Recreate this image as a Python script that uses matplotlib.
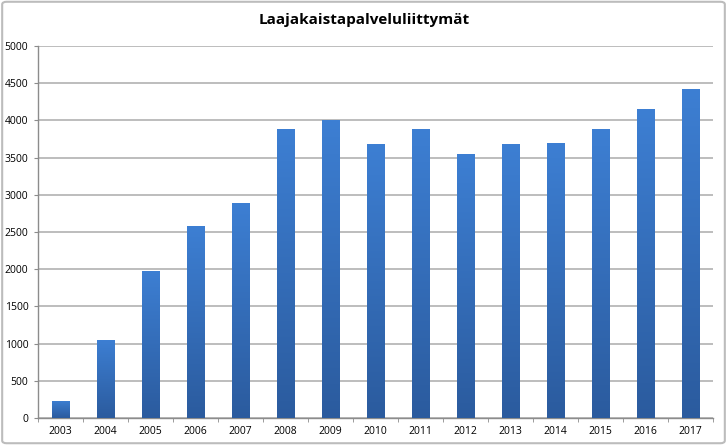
import numpy as np
import matplotlib.pyplot as plt
from matplotlib.colors import LinearSegmentedColormap
from matplotlib.patches import FancyBboxPatch

years = ["2003", "2004", "2005", "2006", "2007", "2008", "2009", "2010",
         "2011", "2012", "2013", "2014", "2015", "2016", "2017"]
values = [230, 1050, 1980, 2580, 2890, 3890, 4000, 3680,
          3880, 3550, 3680, 3700, 3880, 4150, 4420]
title = "Laajakaistapalveluliittymät"

plt.rcParams['font.family'] = ['Open Sans', 'DejaVu Sans']

fig = plt.figure(figsize=(7.27, 4.45), dpi=100)
ax = fig.add_axes([38/727, 1 - 418/445, (713-38)/727, (418-46)/445])

# outer border of the chart
fig.patches.append(FancyBboxPatch((0.003, 0.004), 0.994, 0.992, boxstyle="round,pad=0,rounding_size=0.006",
                                  transform=fig.transFigure, fill=False, edgecolor="#bcbcbc", linewidth=1.5))

x = np.arange(len(years))
bars = ax.bar(x, values, width=0.4, color="#3a78c6", zorder=3)

# vertical gradient inside each bar: lighter top, darker bottom
cmap = LinearSegmentedColormap.from_list("g", ["#2b5b9e", "#3d7fd3"])
grad = np.linspace(0, 1, 256).reshape(-1, 1)
for b in bars:
    x0, y0 = b.get_x(), b.get_y()
    im = ax.imshow(grad, cmap=cmap, origin="lower", aspect="auto",
                   extent=[x0, x0 + b.get_width(), y0, y0 + b.get_height()], zorder=3)
    im.set_clip_path(b)
    b.set_facecolor("none")
    b.set_edgecolor("none")

ax.set_xlim(-0.5, len(years) - 0.5)
ax.set_ylim(0, 5000)
ax.set_yticks(np.arange(0, 5001, 500))
ax.yaxis.grid(True, color="#b8b8b8", linewidth=1.3, zorder=0)
ax.set_axisbelow(True)

ax.set_xticks(x)
ax.set_xticklabels(years)
ax.set_xticks(np.arange(-0.5, len(years)), minor=True)
ax.tick_params(axis="x", which="major", length=0, labelsize=7.5, pad=6)
ax.tick_params(axis="x", which="minor", length=3, color="#8c8c8c", direction="out")
ax.tick_params(axis="y", length=3, color="#8c8c8c", labelsize=7.5, pad=4)

for s in ["top", "right"]:
    ax.spines[s].set_visible(False)
for s in ["left", "bottom"]:
    ax.spines[s].set_color("#8c8c8c")
    ax.spines[s].set_linewidth(1)

fig.text(364/727, 1 - 20/445, title, ha="center", va="center", fontsize=11, fontweight="bold")

fig.savefig("out.png", dpi=100)
